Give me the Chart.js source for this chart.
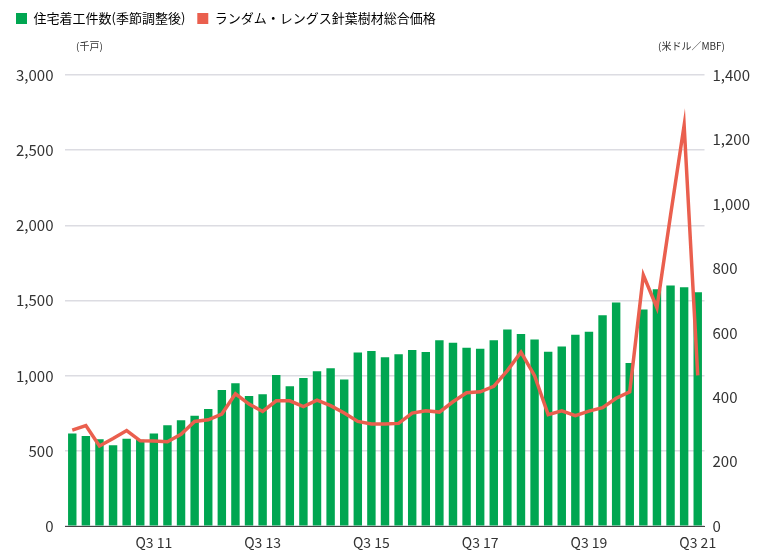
<!DOCTYPE html>
<html><head><meta charset="utf-8">
<script src="https://cdn.jsdelivr.net/npm/chart.js@4"></script>
<style>
  html, body { margin: 0; padding: 0; background: #fff; }
  #wrap { position: relative; width: 762px; height: 559px; font-family: 'Noto Sans CJK JP', sans-serif; }
  .unit { position: absolute; top: 38px; font-size: 10px; color: #333; }
</style></head>
<body>
<div id="wrap">
  <canvas id="chart" width="762" height="559"></canvas>
  <div class="unit" style="left:76px">(千戸)</div>
  <div class="unit" style="left:658px">(米ドル／MBF)</div>
</div>
<script>
// quarters Q1 2010 .. Q3 2021
const quarters = [];
for (let y = 10; y <= 21; y++) {
  for (let q = 1; q <= 4; q++) {
    if (y === 21 && q > 3) break;
    quarters.push('Q' + q + ' ' + y);
  }
}

const housingStarts = [617, 600, 578, 539, 582, 574, 617, 671, 705, 735, 780, 905, 950, 865, 878, 1005,
  930, 985, 1030, 1050, 975, 1155, 1165, 1124, 1143, 1171, 1158, 1236, 1219, 1187, 1180, 1236,
  1308, 1278, 1241, 1160, 1195, 1273, 1293, 1403, 1488, 1085, 1440, 1575, 1601, 1588, 1555];

const lumberPrice = [298, 312, 249, 272, 297, 265, 264, 262, 285, 325, 330, 348, 411, 379, 356, 389,
  389, 371, 391, 374, 351, 325, 317, 317, 319, 351, 358, 354, 386, 414, 417, 434,
  483, 540, 467, 346, 358, 343, 357, 368, 397, 417, 779, 678, 965, 1244, 468];

const leftTicks = [0, 500, 1000, 1500, 2000, 2500, 3000];
const rightTicks = [0, 200, 400, 600, 800, 1000, 1200, 1400];

new Chart(document.getElementById('chart').getContext('2d'), {
  data: {
    labels: quarters,
    datasets: [{
      type: 'line',
      label: 'ランダム・レングス針葉樹材総合価格',
      data: lumberPrice,
      yAxisID: 'y1',
      borderColor: '#ea5f4e',
      backgroundColor: '#ea5f4e',
      borderWidth: 3.5,
      pointRadius: 0,
      tension: 0
    }, {
      type: 'bar',
      label: '住宅着工件数(季節調整後)',
      data: housingStarts,
      yAxisID: 'y',
      backgroundColor: '#00a651',
      categoryPercentage: 0.62,
      barPercentage: 1
    }]
  },
  options: {
    responsive: false,
    animation: false,
    layout: { padding: { top: 0, left: 4, right: 4, bottom: 0 } },
    plugins: {
      legend: {
        position: 'top',
        align: 'start',
        reverse: true,
        labels: {
          boxWidth: 11, boxHeight: 11, padding: 12, color: '#222',
          font: { family: "'Noto Sans CJK JP', sans-serif", size: 13 },
          generateLabels: chart => chart.data.datasets.map((ds, i) => ({
            text: ds.label, fillStyle: ds.backgroundColor, strokeStyle: ds.backgroundColor,
            lineWidth: 0, datasetIndex: i
          }))
        }
      },
      tooltip: { enabled: false }
    },
    scales: {
      x: {
        grid: { display: false, drawTicks: false },
        border: { color: '#444', width: 1 },
        ticks: {
          autoSkip: false, maxRotation: 0, color: '#333', padding: 8,
          font: { family: "'Noto Sans CJK JP', sans-serif", size: 14 },
          callback: function (v) {
            const l = quarters[v];
            const yr = parseInt(l.slice(3), 10);
            return (l.startsWith('Q3') && yr % 2 === 1) ? l : '';
          }
        }
      },
      y: {
        position: 'left', min: 0, max: 3000,
        afterBuildTicks: a => { a.ticks = leftTicks.map(v => ({ value: v })); },
        grid: { color: '#dcdce2', lineWidth: 1.5, drawTicks: false },
        border: { display: false },
        ticks: { color: '#333', padding: 12, font: { family: "'Noto Sans CJK JP', sans-serif", size: 15 } }
      },
      y1: {
        position: 'right', min: 0, max: 1400,
        afterBuildTicks: a => { a.ticks = rightTicks.map(v => ({ value: v })); },
        grid: { display: false, drawTicks: false },
        border: { display: false },
        ticks: {
          color: '#333', padding: 8,
          font: { family: "'Noto Sans CJK JP', sans-serif", size: 15 },
          callback: v => v.toLocaleString('en-US')
        }
      }
    }
  },
  plugins: [{
    id: 'legendGap',
    beforeInit(chart) {
      const orig = chart.legend.fit;
      chart.legend.fit = function () { orig.bind(chart.legend)(); this.height += 40; };
    }
  }]
});
</script>
</body></html>
